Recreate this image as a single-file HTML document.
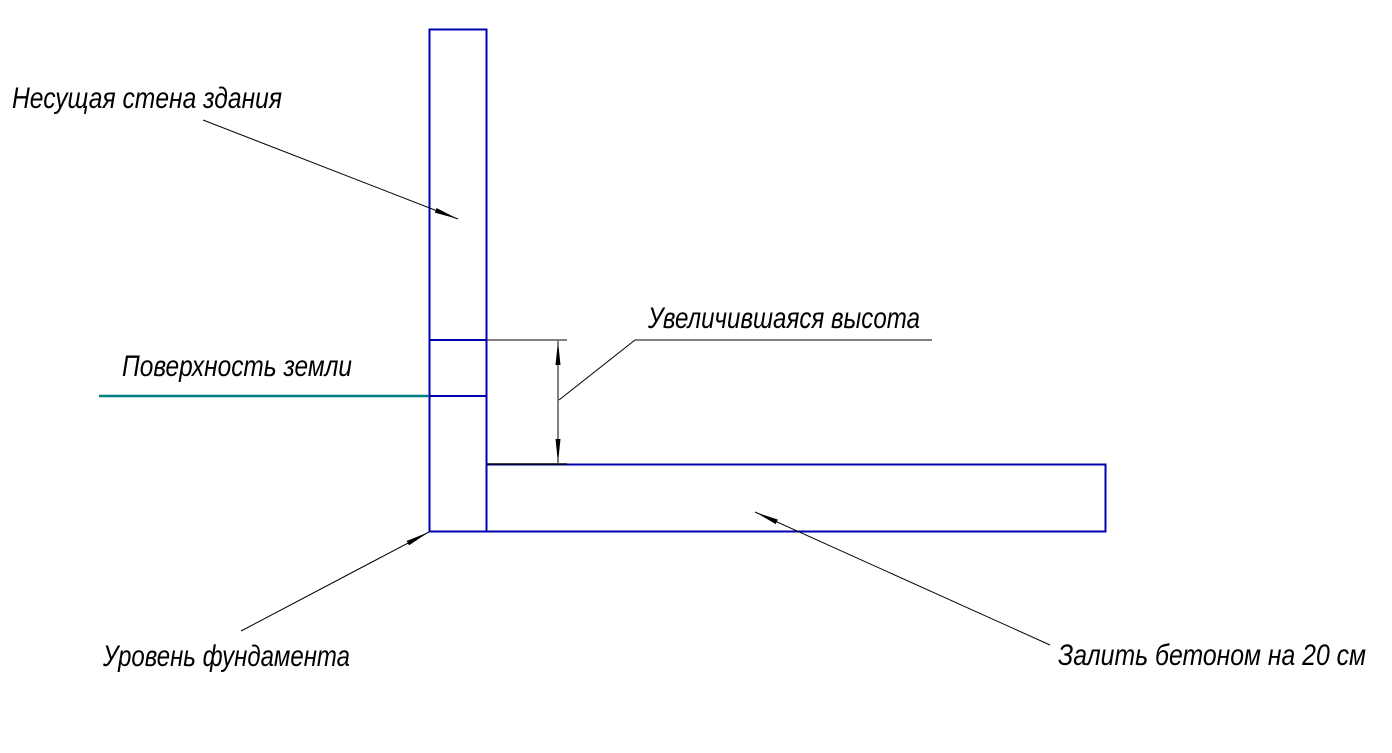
<!DOCTYPE html>
<html><head><meta charset="utf-8">
<style>
html,body{margin:0;padding:0;background:#fff;}
svg{display:block;}
text{font-family:"Liberation Sans","DejaVu Sans",sans-serif;font-style:italic;font-size:30px;fill:#000;}
</style></head>
<body>
<svg width="1392" height="753" viewBox="0 0 1392 753" xmlns="http://www.w3.org/2000/svg">
<defs>
<marker id="ar" markerWidth="24" markerHeight="8" refX="24" refY="4" orient="auto" markerUnits="userSpaceOnUse">
<path d="M0,1.5 L24,4 L0,6.5 Z" fill="#000"/>
</marker>
</defs>
<!-- wall -->
<rect x="429.5" y="29.5" width="57" height="502" fill="none" stroke="#0000b0" stroke-width="2"/>
<line x1="429" y1="340" x2="486" y2="340" stroke="#0000b0" stroke-width="2"/>
<line x1="429" y1="396" x2="486" y2="396" stroke="#0000b0" stroke-width="2"/>
<!-- ground -->
<line x1="99" y1="396" x2="429" y2="396" stroke="#008080" stroke-width="2.5"/>
<!-- slab -->
<rect x="486.5" y="464.5" width="619" height="67" fill="none" stroke="#0000b0" stroke-width="2"/>
<!-- dimension -->
<line x1="487" y1="340" x2="567" y2="340" stroke="#000" stroke-width="1"/>
<line x1="487" y1="464" x2="567" y2="464" stroke="#000" stroke-width="1.5"/>
<line x1="558" y1="400" x2="558" y2="341" stroke="#000" stroke-width="1" marker-end="url(#ar)"/>
<line x1="558" y1="400" x2="558" y2="463" stroke="#000" stroke-width="1" marker-end="url(#ar)"/>
<polyline points="559,400 635,340 932,340" fill="none" stroke="#000" stroke-width="1"/>
<!-- leaders -->
<line x1="203" y1="120" x2="458" y2="219" stroke="#000" stroke-width="1" marker-end="url(#ar)"/>
<line x1="241" y1="631" x2="429" y2="532" stroke="#000" stroke-width="1" marker-end="url(#ar)"/>
<line x1="1050" y1="645" x2="755" y2="512" stroke="#000" stroke-width="1" marker-end="url(#ar)"/>
<!-- labels -->
<text x="12" y="108" textLength="270" lengthAdjust="spacingAndGlyphs">Несущая стена здания</text>
<text x="648" y="328" textLength="272" lengthAdjust="spacingAndGlyphs">Увеличившаяся высота</text>
<text x="122" y="376" textLength="230" lengthAdjust="spacingAndGlyphs">Поверхность земли</text>
<text x="103" y="666" textLength="247" lengthAdjust="spacingAndGlyphs">Уровень фундамента</text>
<text x="1058" y="665" textLength="308" lengthAdjust="spacingAndGlyphs">Залить бетоном на 20 см</text>
</svg>
</body></html>
